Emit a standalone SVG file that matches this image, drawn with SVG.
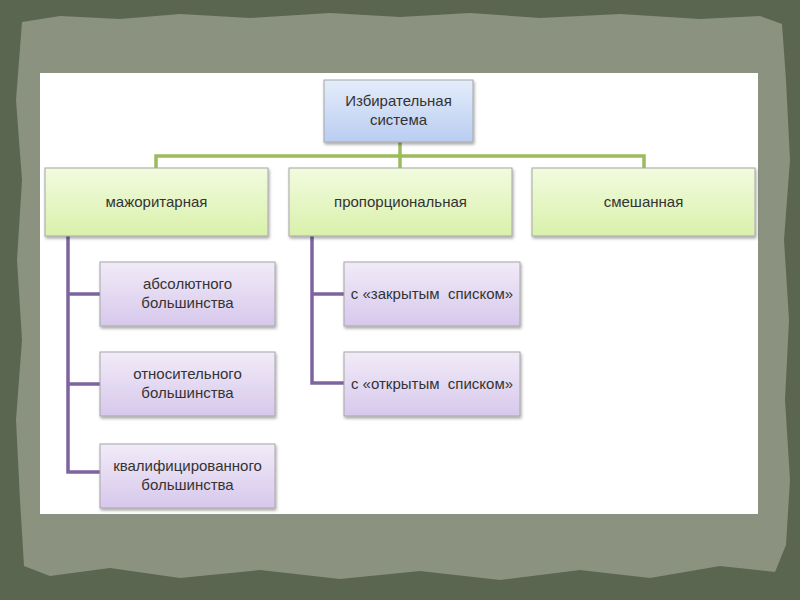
<svg xmlns="http://www.w3.org/2000/svg" width="800" height="600" viewBox="0 0 800 600">
<defs>
<linearGradient id="gBlue" x1="0" y1="0" x2="0" y2="1"><stop offset="0" stop-color="#e4ecfa"/><stop offset="1" stop-color="#b9cdf2"/></linearGradient>
<linearGradient id="gGreen" x1="0" y1="0" x2="0" y2="1"><stop offset="0" stop-color="#f2fbdf"/><stop offset="1" stop-color="#d9f1ab"/></linearGradient>
<linearGradient id="gPurple" x1="0" y1="0" x2="0" y2="1"><stop offset="0" stop-color="#f1ebf8"/><stop offset="1" stop-color="#d7c8ec"/></linearGradient>
<filter id="sh" x="-10%" y="-10%" width="130%" height="140%"><feDropShadow dx="1" dy="2" stdDeviation="1.5" flood-color="#000" flood-opacity="0.35"/></filter>
</defs>
<style>
.box{stroke:#a6a6a6;stroke-width:1;filter:url(#sh)}
.t{font-family:"Liberation Sans Narrow","Liberation Sans",Arial,sans-serif;font-size:15px;fill:#333;text-anchor:middle}
.gl{stroke:#9cbb5c;stroke-width:3.5;fill:none}
.pl{stroke:#7d64a0;stroke-width:3.5;fill:none}
</style>
<rect width="800" height="600" fill="#5b6650"/>
<path d="M22,22 L60,16 L120,19 L180,14 L250,18 L330,13 L400,17 L470,13 L540,18 L620,14 L700,19 L760,16 L782,24 L786,80 L790,160 L784,240 L789,320 L785,400 L790,480 L786,545 L775,572 L720,566 L650,578 L580,570 L500,580 L420,571 L340,579 L260,570 L180,578 L110,568 L50,576 L24,566 L20,500 L16,420 L22,340 L17,260 L22,180 L16,100 Z" fill="#8b927f"/>
<rect x="40" y="73" width="718" height="441" fill="#ffffff"/>
<g id="connectors">
<path class="gl" d="M400,142 V156 M156,169 V156 H644 V169 M400,156 V169"/>
<path class="pl" d="M68,236 V472 H101 M68,294 H101 M68,384 H101"/>
<path class="pl" d="M312,236 V383 H345 M312,294 H345"/>
</g>
<g id="n-root"><rect class="box" x="324" y="80" width="149" height="62" fill="url(#gBlue)"/><text class="t" x="398.5" y="106">Избирательная</text><text class="t" x="398.5" y="125">система</text></g>
<g id="n-maj"><rect class="box" x="45" y="168" width="223" height="68" fill="url(#gGreen)"/><text class="t" x="156.5" y="207">мажоритарная</text></g>
<g id="n-prop"><rect class="box" x="289" y="168" width="223" height="68" fill="url(#gGreen)"/><text class="t" x="400.5" y="207">пропорциональная</text></g>
<g id="n-mix"><rect class="box" x="532" y="168" width="223" height="68" fill="url(#gGreen)"/><text class="t" x="643.5" y="207">смешанная</text></g>
<g id="n-abs"><rect class="box" x="100" y="262" width="175" height="64" fill="url(#gPurple)"/><text class="t" x="187.5" y="289">абсолютного</text><text class="t" x="187.5" y="308">большинства</text></g>
<g id="n-rel"><rect class="box" x="100" y="352" width="175" height="64" fill="url(#gPurple)"/><text class="t" x="187.5" y="379">относительного</text><text class="t" x="187.5" y="398">большинства</text></g>
<g id="n-qual"><rect class="box" x="100" y="444" width="175" height="64" fill="url(#gPurple)"/><text class="t" x="187.5" y="471">квалифицированного</text><text class="t" x="187.5" y="490">большинства</text></g>
<g id="n-closed"><rect class="box" x="344" y="262" width="176" height="64" fill="url(#gPurple)"/><text class="t" x="432" y="299" xml:space="preserve">с «закрытым  списком»</text></g>
<g id="n-open"><rect class="box" x="344" y="352" width="176" height="64" fill="url(#gPurple)"/><text class="t" x="432" y="389" xml:space="preserve">с «открытым  списком»</text></g>
</svg>
